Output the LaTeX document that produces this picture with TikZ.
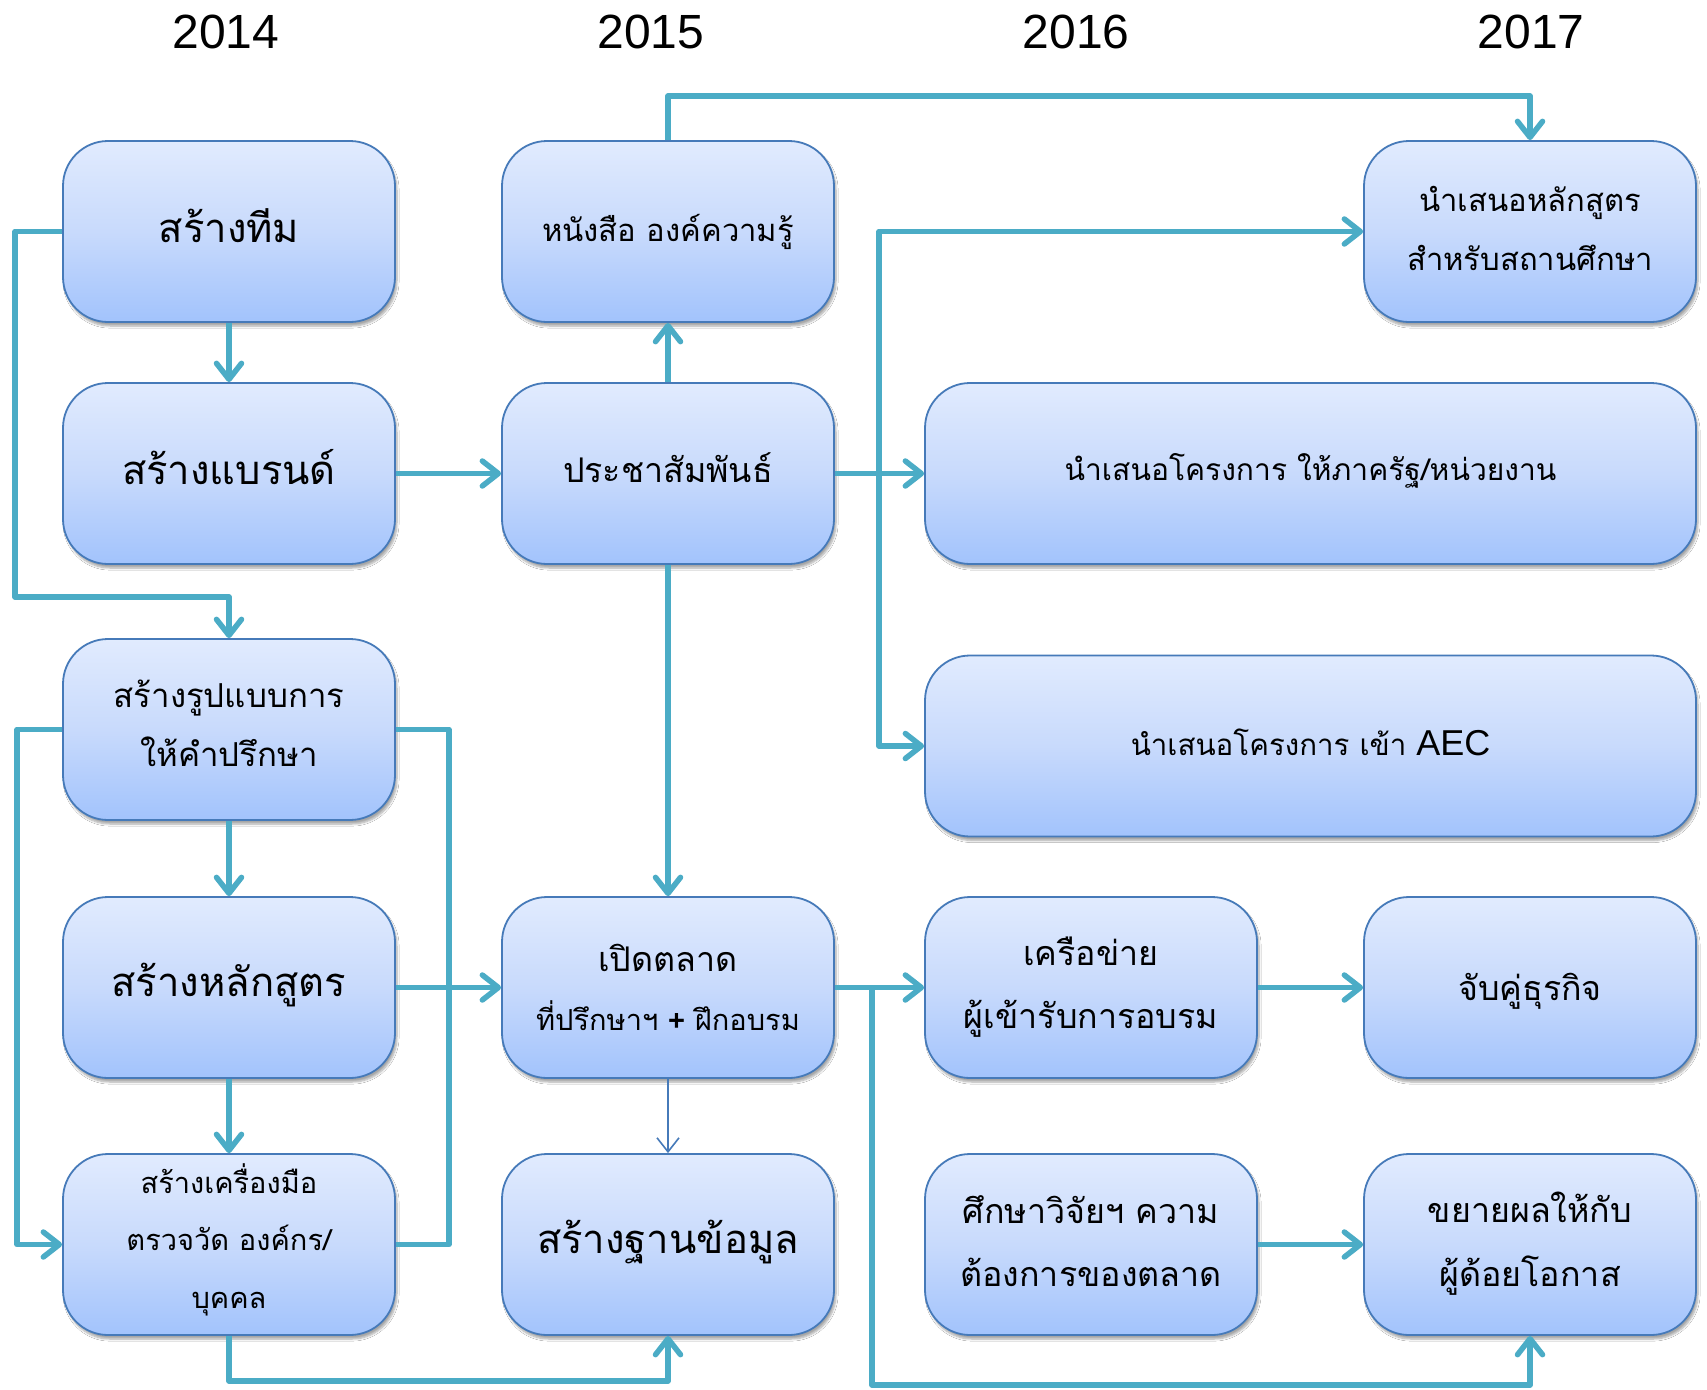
\documentclass[tikz,border=0pt]{standalone}
\usepackage{fontspec}
\setmainfont[Script=Thai]{Loma}
\newfontfamily\latinsans{Liberation Sans}
\usetikzlibrary{arrows.meta,shadows.blur}
\definecolor{boxtop}{RGB}{225,235,254}
\definecolor{boxmid}{RGB}{200,218,252}
\definecolor{boxbot}{RGB}{162,195,252}
\definecolor{boxline}{RGB}{70,122,185}
\definecolor{teal}{RGB}{75,172,198}
\newcommand\tsz[1]{\fontsize{#1}{59}\selectfont}
\begin{document}
\begin{tikzpicture}[x=1pt,y=-1pt,
  stepbox/.style={draw=boxline, line width=1.8pt, rounded corners=45pt,
    top color=boxtop, bottom color=boxbot, middle color=boxmid,
    minimum width=332pt, minimum height=181pt, inner sep=0pt,
    blur shadow={shadow xshift=2pt, shadow yshift=-4pt, shadow blur steps=6, shadow opacity=35}},
  widebox/.style={stepbox, minimum width=771pt},
  txt/.style={inner sep=0pt, align=center},
  arr/.style={draw=teal, line width=5.5pt, line join=round,
    -{Straight Barb[length=16pt,width=25pt,round]}},
  conn/.style={draw=teal, line width=5.5pt, line join=round},
  thinarr/.style={draw=boxline, line width=1.6pt,
    -{Straight Barb[length=14pt,width=22pt]}},
  year/.style={font=\latinsans\fontsize{48}{56}\selectfont, inner sep=0pt}
]
\useasboundingbox (0,0) rectangle (1707,1389);
\fill[white] (0,0) rectangle (1707,1389);

% years
\node[year] (y14) at (226,32) {2014};
\node[year] (y15) at (651,32) {2015};
\node[year] (y16) at (1076,32) {2016};
\node[year] (y17) at (1531,32) {2017};

% boxes
\node[stepbox] (team) at (229,231.5) {};
\node[stepbox] (brand) at (229,473.5) {};
\node[stepbox] (consult) at (229,729.5) {};
\node[stepbox] (course) at (229,987.5) {};
\node[stepbox] (tool) at (229,1244.5) {};
\node[stepbox] (book) at (668,231.5) {};
\node[stepbox] (pr) at (668,473.5) {};
\node[stepbox] (market) at (668,987.5) {};
\node[stepbox] (db) at (668,1244.5) {};
\node[stepbox] (curr) at (1530,231.5) {};
\node[widebox] (gov) at (1310.5,473.5) {};
\node[widebox] (aec) at (1310.5,746) {};
\node[stepbox] (net) at (1091,987.5) {};
\node[stepbox] (match) at (1530,987.5) {};
\node[stepbox] (research) at (1091,1244.5) {};
\node[stepbox] (expand) at (1530,1244.5) {};

% box texts
\node[txt, font=\tsz{40}] (team-t) at ([yshift=6pt]team.center) {สร้างทีม};
\node[txt, font=\tsz{40}] (brand-t) at ([yshift=6pt]brand.center) {สร้างแบรนด์};
\node[txt, font=\tsz{33}] (consult-t) at ([yshift=6pt]consult.center) {สร้างรูปแบบการ\\ให้คำปรึกษา};
\node[txt, font=\tsz{40}] (course-t) at ([yshift=2pt]course.center) {สร้างหลักสูตร};
\node[txt, font=\fontsize{29}{57.5}\selectfont] (tool-t) at ([yshift=5pt]tool.center) {สร้างเครื่องมือ\\ตรวจวัด องค์กร/\\บุคคล};
\node[txt, font=\tsz{31}] (book-t) at ([yshift=0pt]book.center) {หนังสือ องค์ความรู้};
\node[txt, font=\tsz{34}] (pr-t) at ([yshift=6pt]pr.center) {ประชาสัมพันธ์};
\node[txt, font=\tsz{34}] (market-t) at ([yshift=0pt]market.center) {เปิดตลาด\\{\fontsize{29}{59}\selectfont ที่ปรึกษาฯ {\latinsans\bfseries +} ฝึกอบรม}};
\node[txt, font=\tsz{40}] (db-t) at ([yshift=3pt]db.center) {สร้างฐานข้อมูล};
\node[txt, font=\tsz{31}] (curr-t) at ([yshift=3pt]curr.center) {นำเสนอหลักสูตร\\สำหรับสถานศึกษา};
\node[txt, font=\tsz{30}] (gov-t) at ([yshift=3pt]gov.center) {นำเสนอโครงการ ให้ภาครัฐ/หน่วยงาน};
\node[txt, font=\tsz{29.5}] (aec-t) at ([yshift=4pt]aec.center) {นำเสนอโครงการ เข้า {\latinsans\fontsize{36}{40}\selectfont AEC}};
\node[txt, font=\fontsize{34}{63}\selectfont] (net-t) at ([yshift=0pt]net.center) {เครือข่าย\\ผู้เข้ารับการอบรม};
\node[txt, font=\tsz{34}] (match-t) at ([yshift=-4pt]match.center) {จับคู่ธุรกิจ};
\node[txt, font=\fontsize{34}{63}\selectfont] (research-t) at ([yshift=3pt]research.center) {ศึกษาวิจัยฯ ความ\\ต้องการของตลาด};
\node[txt, font=\fontsize{34}{64}\selectfont] (expand-t) at ([yshift=1pt]expand.center) {ขยายผลให้กับ\\ผู้ด้อยโอกาส};

% helper coordinates
\coordinate (leftA) at (15,597);
\coordinate (leftB) at (17,1000);
\coordinate (rightB) at (449,1000);
\coordinate (topline) at (1000,96);
\coordinate (prsplit) at (879,473.5);
\coordinate (mksplit) at (872,987.5);
\coordinate (botA) at (450,1381);
\coordinate (botB) at (1200,1385);

% connectors
\draw[arr] (team.south) -- (brand.north);
\draw[arr] (team.west) -| (leftA) -| (consult.north);
\draw[arr] (brand.east) -- (pr.west);
\draw[arr] (pr.north) -- (book.south);
\draw[arr] (book.north) |- (topline) -| (curr.north);
\draw[arr] (pr.east) -- (gov.west);
\draw[arr] (prsplit) |- (curr.west);
\draw[arr] (prsplit) |- (aec.west);
\draw[arr] (pr.south) -- (market.north);
\draw[arr] (consult.south) -- (course.north);
\draw[arr] (consult.west) -| (leftB) |- (tool.west);
\draw[conn] (consult.east) -| (rightB) |- (tool.east);
\draw[arr] (course.east) -- (market.west);
\draw[arr] (course.south) -- (tool.north);
\draw[thinarr] (market.south) -- (db.north);
\draw[arr] (tool.south) |- (botA) -| (db.south);
\draw[arr] (market.east) -- (net.west);
\draw[arr] (mksplit) |- (botB) -| (expand.south);
\draw[arr] (net.east) -- (match.west);
\draw[arr] (research.east) -- (expand.west);
\end{tikzpicture}
\end{document}
